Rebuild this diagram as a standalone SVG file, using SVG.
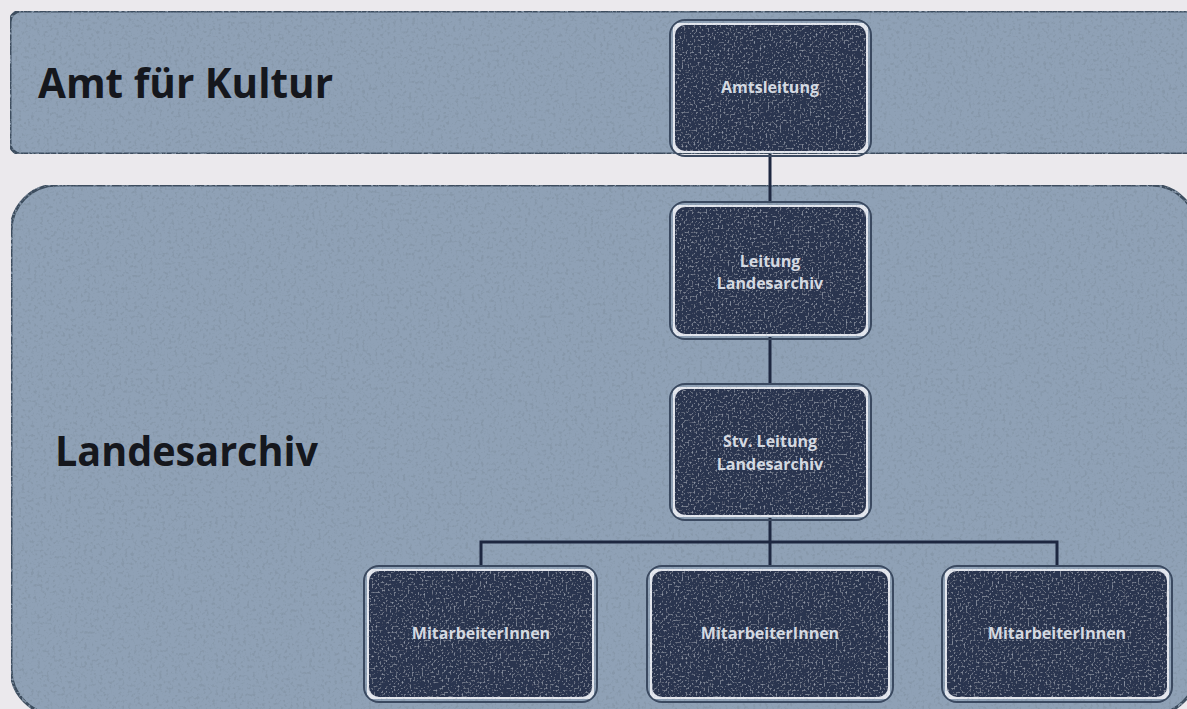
<svg xmlns="http://www.w3.org/2000/svg" width="1187" height="709" viewBox="0 0 1187 709">
  <defs>
    <style>
      .band { fill: #8fa1b6; stroke: #3c4d5e; stroke-width: 3; }
      .box-rim { fill: none; stroke: #3a4960; stroke-width: 2; }
      .box { fill: #2c364f; stroke: #e4e7ee; stroke-width: 4; }
      .title { font-family: "Open Sans", "Liberation Sans", sans-serif; font-weight: 700; font-size: 42px; fill: #15171d; }
      .label { font-family: "Open Sans", "Liberation Sans", sans-serif; font-weight: 700; font-size: 16px; fill: #d4d9e1; text-anchor: middle; }
      .wire { fill: none; stroke: #1d2740; stroke-width: 3; }
    </style>
    <!-- speckled print texture: dark flecks on the bands -->
    <filter id="grain" x="0" y="0" width="100%" height="100%">
      <feTurbulence type="fractalNoise" baseFrequency="0.32" numOctaves="2" seed="4" result="n"/>
      <feColorMatrix in="n" type="matrix" values="0 0 0 0 0.24  0 0 0 0 0.31  0 0 0 0 0.40  4.5 0 0 0 -2.35" result="flecks"/>
      <feComposite in="flecks" in2="SourceGraphic" operator="in" result="flecksIn"/>
      <feMerge><feMergeNode in="SourceGraphic"/><feMergeNode in="flecksIn"/></feMerge>
    </filter>
    <!-- faint lighter flecks on the dark boxes -->
    <filter id="grainLight" x="0" y="0" width="100%" height="100%">
      <feTurbulence type="fractalNoise" baseFrequency="0.5" numOctaves="2" seed="9" result="n"/>
      <feColorMatrix in="n" type="matrix" values="0 0 0 0 0.45  0 0 0 0 0.5  0 0 0 0 0.6  2.2 0 0 0 -1.2" result="flecks"/>
      <feComposite in="flecks" in2="SourceGraphic" operator="in" result="flecksIn"/>
      <feMerge><feMergeNode in="SourceGraphic"/><feMergeNode in="flecksIn"/></feMerge>
    </filter>
  </defs>

  <rect x="0" y="0" width="1187" height="709" fill="#ebe9ed"/>

  <!-- organisational bands -->
  <g id="band-amt" filter="url(#grain)">
    <rect class="band" x="10" y="11" width="1195" height="143" rx="11"/>
  </g>
  <g id="band-landesarchiv" filter="url(#grain)">
    <rect class="band" x="11" y="185" width="1186" height="530" rx="46"/>
  </g>
  <text class="title" x="38" y="98" textLength="295" lengthAdjust="spacingAndGlyphs">Amt für Kultur</text>
  <text class="title" x="55" y="466" textLength="263" lengthAdjust="spacingAndGlyphs">Landesarchiv</text>

  <!-- reporting lines -->
  <g id="connectors">
    <path class="wire" d="M770 154 V203"/>
    <path class="wire" d="M770 337 V385"/>
    <path class="wire" d="M770 518 V567"/>
    <path class="wire" d="M481 567 V542 H1057 V567"/>
  </g>

  <g id="amtsleitung">
    <rect class="box-rim" x="670" y="20" width="201" height="136" rx="15"/>
    <rect class="box" x="673" y="23" width="195" height="130" rx="12" filter="url(#grainLight)"/>
    <text class="label" x="770" y="93">Amtsleitung</text>
  </g>

  <g id="leitung">
    <rect class="box-rim" x="670" y="202" width="201" height="137" rx="15"/>
    <rect class="box" x="673" y="205" width="195" height="131" rx="12" filter="url(#grainLight)"/>
    <text class="label" x="770" y="267">Leitung</text>
    <text class="label" x="770" y="289">Landesarchiv</text>
  </g>

  <g id="stv-leitung">
    <rect class="box-rim" x="670" y="384" width="201" height="136" rx="15"/>
    <rect class="box" x="673" y="387" width="195" height="130" rx="12" filter="url(#grainLight)"/>
    <text class="label" x="770" y="447">Stv. Leitung</text>
    <text class="label" x="770" y="470">Landesarchiv</text>
  </g>

  <g id="mitarbeiter-1">
    <rect class="box-rim" x="364" y="566" width="233" height="136" rx="15"/>
    <rect class="box" x="367" y="569" width="227" height="130" rx="12" filter="url(#grainLight)"/>
    <text class="label" x="481" y="639">MitarbeiterInnen</text>
  </g>

  <g id="mitarbeiter-2">
    <rect class="box-rim" x="647" y="566" width="246" height="136" rx="15"/>
    <rect class="box" x="650" y="569" width="240" height="130" rx="12" filter="url(#grainLight)"/>
    <text class="label" x="770" y="639">MitarbeiterInnen</text>
  </g>

  <g id="mitarbeiter-3">
    <rect class="box-rim" x="942" y="566" width="230" height="136" rx="15"/>
    <rect class="box" x="945" y="569" width="224" height="130" rx="12" filter="url(#grainLight)"/>
    <text class="label" x="1057" y="639">MitarbeiterInnen</text>
  </g>
</svg>
